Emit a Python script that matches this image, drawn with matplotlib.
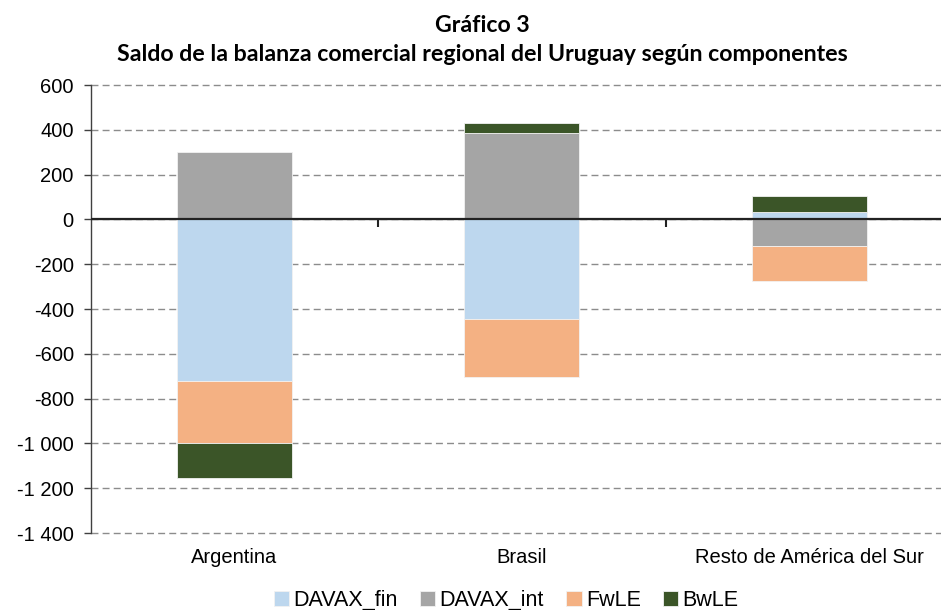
import matplotlib.pyplot as plt
import numpy as np
from matplotlib.ticker import FuncFormatter, MultipleLocator

# valores (millones de US$)
categorias = ["Argentina", "Brasil", "Resto de América del Sur"]
series = ["DAVAX_fin", "DAVAX_int", "FwLE", "BwLE"]
davax_fin = [-721, -445, 34]
davax_int = [301, 386, -119]
fwle = [-278, -258, -154]
bwle = [-155, 44, 72]
colores = ["#BDD7EE", "#A5A5A5", "#F4B183", "#3B5528"]

titulo = "Gráfico 3\nSaldo de la balanza comercial regional del Uruguay según componentes"

plt.rcParams['font.family'] = ['Liberation Sans', 'DejaVu Sans']

fig = plt.figure(figsize=(9.41, 6.10), dpi=100)
ax = fig.add_axes([0.0962, 0.1262, 0.9166, 0.7344])

x = np.arange(len(categorias))
pos_base = np.zeros(len(categorias))
neg_base = np.zeros(len(categorias))
for nombre, vals, col in zip(series, [davax_fin, davax_int, fwle, bwle], colores):
    vals = np.array(vals, dtype=float)
    base = np.where(vals >= 0, pos_base, neg_base)
    ax.bar(x, vals, 0.4, bottom=base, color=col, label=nombre,
           edgecolor='#f2f2f2', linewidth=0.6, zorder=3)
    pos_base += np.where(vals >= 0, vals, 0)
    neg_base += np.where(vals < 0, vals, 0)

ax.set_xlim(-0.5, len(categorias) - 0.5)
ax.set_ylim(-1400, 600)
ax.yaxis.set_major_locator(MultipleLocator(200))
ax.yaxis.set_major_formatter(FuncFormatter(lambda v, p: f"{int(v):,}".replace(",", " ")))
ax.grid(axis='y', color='#8c8c8c', linestyle=(0, (5, 3)), linewidth=1.0, zorder=0)
for gl in ax.get_ygridlines():
    gl.set_clip_on(False)

for s in ['top', 'right', 'bottom']:
    ax.spines[s].set_visible(False)
ax.spines['left'].set_color('#404040')
ax.spines['left'].set_linewidth(1.0)
ax.tick_params(axis='y', direction='out', length=5, width=1, color='#404040',
               labelsize=14.5, pad=7)

ax.set_xticks(x)
ax.set_xticklabels(categorias)
ax.tick_params(axis='x', length=0, labelsize=14.5, pad=11)

# eje de categorías en cero con marcas entre categorías
ax.axhline(0, color='#222222', linewidth=1.6, zorder=4)
sec = ax.secondary_xaxis(1400 / 2000)
sec.set_xticks(x[:-1] + 0.5)
sec.set_xticklabels([])
sec.tick_params(direction='in', length=6, width=1.5, color='#222222')
sec.spines['bottom'].set_visible(False)

fig.suptitle(titulo, x=0.513, y=0.975, fontsize=16.7, fontweight='bold',
             family=['Lato', 'DejaVu Sans'], linespacing=1.45)

handles, labels = ax.get_legend_handles_labels()
fig.legend(handles, labels, loc='center', bbox_to_anchor=(0.538, 0.016), ncol=4,
           frameon=False, fontsize=15.5, handlelength=0.7, handleheight=0.7,
           handletextpad=0.2, columnspacing=1.05)

fig.savefig("out.png", dpi=100)
